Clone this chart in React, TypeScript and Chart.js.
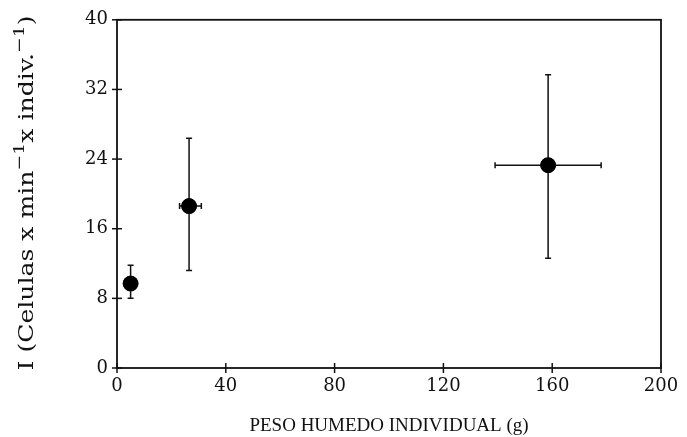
import React, { useEffect, useRef } from "react";
import { Chart, registerables } from "chart.js";

Chart.register(...registerables);

const pesoX = [5, 26.5, 158.5];
const indiceY = [9.7, 18.6, 23.3];
const yErrLow = [8.0, 11.2, 12.6];
const yErrHigh = [11.8, 26.4, 33.7];
const xErrLow = [5, 23, 139];
const xErrHigh = [5, 31, 178];
const xTicks = [0, 40, 80, 120, 160, 200];
const yTicks = [0, 8, 16, 24, 32, 40];
const yTitleParts = [
  { text: "I (Celulas x min", sup: false },
  { text: "\u22121", sup: true },
  { text: "x indiv.", sup: false },
  { text: "\u22121", sup: true },
  { text: ")", sup: false },
];
const xTitle = "PESO HUMEDO INDIVIDUAL (g)";

const FONT = "'DejaVu Serif', 'Liberation Serif', serif";
const FONT2 = "'Liberation Serif', 'DejaVu Serif', serif";

const framePlugin = {
  id: "frameErr",
  afterDatasetsDraw(chart: any) {
    const ctx = chart.ctx;
    const xs = chart.scales.x;
    const ys = chart.scales.y;
    const a = chart.chartArea;
    ctx.save();
    ctx.strokeStyle = "#111";
    ctx.lineWidth = 1.8;
    ctx.strokeRect(a.left, a.top, a.right - a.left, a.bottom - a.top);
    ctx.lineWidth = 1.5;
    xTicks.forEach((v) => {
      const px = xs.getPixelForValue(v);
      ctx.beginPath();
      ctx.moveTo(px, a.bottom - 5);
      ctx.lineTo(px, a.bottom + 5);
      ctx.stroke();
    });
    yTicks.forEach((v) => {
      const py = ys.getPixelForValue(v);
      ctx.beginPath();
      ctx.moveTo(a.left - 5, py);
      ctx.lineTo(a.left + 5, py);
      ctx.stroke();
    });
    const cap = 3;
    for (let i = 0; i < pesoX.length; i++) {
      const cx = xs.getPixelForValue(pesoX[i]);
      const cy = ys.getPixelForValue(indiceY[i]);
      const yl = ys.getPixelForValue(yErrLow[i]);
      const yh = ys.getPixelForValue(yErrHigh[i]);
      ctx.beginPath();
      ctx.moveTo(cx, yl);
      ctx.lineTo(cx, yh);
      ctx.moveTo(cx - cap, yl);
      ctx.lineTo(cx + cap, yl);
      ctx.moveTo(cx - cap, yh);
      ctx.lineTo(cx + cap, yh);
      ctx.stroke();
      if (xErrHigh[i] - xErrLow[i] > 0.5) {
        const xl = xs.getPixelForValue(xErrLow[i]);
        const xh = xs.getPixelForValue(xErrHigh[i]);
        ctx.beginPath();
        ctx.moveTo(xl, cy);
        ctx.lineTo(xh, cy);
        ctx.moveTo(xl, cy - cap);
        ctx.lineTo(xl, cy + cap);
        ctx.moveTo(xh, cy - cap);
        ctx.lineTo(xh, cy + cap);
        ctx.stroke();
      }
    }
    ctx.fillStyle = "#000";
    for (let i = 0; i < pesoX.length; i++) {
      const cx = xs.getPixelForValue(pesoX[i]);
      const cy = ys.getPixelForValue(indiceY[i]);
      ctx.beginPath();
      ctx.arc(cx, cy, 7.5, 0, Math.PI * 2);
      ctx.fill();
    }
    // y title with real superscripts
    const mainFont = `20px ${FONT}`;
    const supFont = `15px ${FONT}`;
    let total = 0;
    yTitleParts.forEach((p) => {
      ctx.font = p.sup ? supFont : mainFont;
      total += ctx.measureText(p.text).width;
    });
    const target = 355;
    ctx.translate(28, 193);
    ctx.rotate(-Math.PI / 2);
    ctx.scale(target / total, 1);
    ctx.fillStyle = "#111";
    ctx.textBaseline = "middle";
    ctx.textAlign = "left";
    let pos = -total / 2;
    yTitleParts.forEach((p) => {
      ctx.font = p.sup ? supFont : mainFont;
      ctx.fillText(p.text, pos, p.sup ? -8 : 0);
      pos += ctx.measureText(p.text).width;
    });
    ctx.restore();
  },
};

export default function App() {
  const ref = useRef<HTMLCanvasElement>(null);
  useEffect(() => {
    document.body.style.margin = "0";
    const chart = new Chart(ref.current!, {
      type: "scatter",
      data: {
        datasets: [
          {
            data: pesoX.map((x, i) => ({ x, y: indiceY[i] })),
            backgroundColor: "#000",
            borderColor: "#000",
            pointRadius: 7.5,
          },
        ],
      },
      options: {
        animation: false,
        responsive: false,
        layout: { padding: { top: 18, right: 26, left: 0, bottom: 0 } },
        plugins: { legend: { display: false }, tooltip: { enabled: false } },
        scales: {
          x: {
            type: "linear",
            min: 0,
            max: 200,
            afterBuildTicks: (s: any) => {
              s.ticks = xTicks.map((v) => ({ value: v }));
            },
            afterFit: (s: any) => {
              s.height = 69;
            },
            grid: { display: false, drawTicks: false },
            border: { display: false },
            ticks: {
              padding: 8,
              color: "#111",
              font: { family: FONT, size: 18 },
            },
            title: {
              display: true,
              text: xTitle,
              color: "#111",
              font: { family: FONT2, size: 19 },
              padding: { top: 8, bottom: 0 },
            },
          },
          y: {
            type: "linear",
            min: 0,
            max: 40,
            afterBuildTicks: (s: any) => {
              s.ticks = yTicks.map((v) => ({ value: v }));
            },
            afterFit: (s: any) => {
              s.width = 117;
            },
            grid: { display: false, drawTicks: false },
            border: { display: false },
            ticks: {
              padding: 9,
              color: "#111",
              font: { family: FONT, size: 18 },
            },
            title: { display: false },
          },
        },
      },
      plugins: [framePlugin],
    });
    return () => chart.destroy();
  }, []);
  return (
    <div style={{ position: "absolute", left: 0, top: 0, width: 687, height: 437, background: "#fff" }}>
      <canvas ref={ref} width={687} height={437} />
    </div>
  );
}
